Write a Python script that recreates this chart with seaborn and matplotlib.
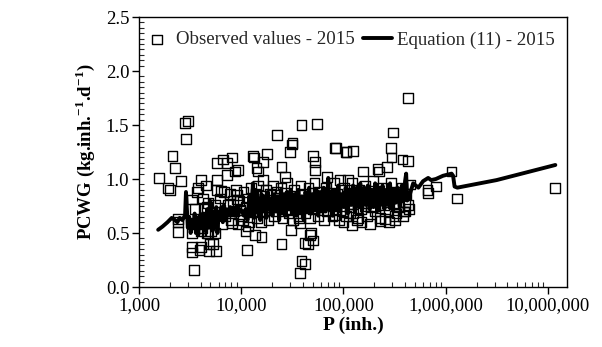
import numpy as np
import pandas as pd
from matplotlib import pyplot as plt
from matplotlib import ticker
import seaborn as sns

# Observed values - 2015 (population, PCWG)
obs_p = [1580, 1935, 2010, 2130, 2230, 2560, 2820, 3030, 2880, 2400, 2400, 3300, 3300, 3470,
         3660, 3800, 4040, 4040, 4520, 4650, 4830, 5320, 5620, 5830, 5780, 5830, 6300, 6670,
         7200, 8060, 7300, 8700, 9340, 8060, 9020, 9020, 9710, 11300, 10470, 11700, 13100,
         13400, 14100, 14700, 17700, 16400, 13600, 15800, 16400, 22200, 24800, 24800, 26700,
         29900, 31100, 31700, 30600, 38900, 55300, 37500, 42000, 38900, 47000, 45200, 37500,
         37000, 50600, 52500, 52500, 82400, 105000, 68400, 92300, 111000, 429000, 306000,
         84300, 107000, 123000, 290000, 295000, 378000, 424000, 264000, 215000, 223000,
         156000, 1140000, 800000, 664000, 673000, 1290000, 11700000, 439000, 330000, 254000,
         203000, 139000, 116000, 82400, 343000, 398000, 3300, 3900, 4900, 4600, 5500, 4700,
         2400, 3300, 4100, 5100, 48000, 50000, 42000, 11000,
         4300, 4700, 5000, 5300, 5600, 6000, 6200, 6500, 6800, 7000, 7400, 7700, 8000, 8300,
         8600, 8900, 9300, 9600, 10000, 10500, 11000, 11500, 12000, 12500, 12800, 13300,
         13800, 14200, 14700, 15200, 15700, 16200, 16800, 17300, 17900, 18500, 19000, 19700,
         20300, 21000, 21600, 22300, 23000, 23800, 24500, 25300, 26000, 27000, 28000, 29000,
         30000, 31000, 32000, 33000, 34000, 35500, 36500, 38000, 39500, 41000, 42500, 44000,
         45500, 47000, 48500, 50000, 52000, 54000, 56000, 58000, 60000, 62000, 64500, 67000,
         69500, 72000, 75000, 78000, 81000, 84000, 87000, 90000, 94000, 98000, 102000, 106000,
         110000, 115000, 120000, 125000, 130000, 136000, 142000, 148000, 155000, 162000,
         170000, 178000, 186000, 195000, 205000, 215000, 226000, 237000, 249000, 262000,
         275000, 290000, 305000, 320000, 336000, 352000, 370000, 390000, 410000, 430000,
         445000, 100000, 120000, 150000, 180000, 230000, 280000, 320000, 400000, 380000,
         3500, 3700, 4000, 4200, 4500]
obs_v = [1.01, 0.92, 0.90, 1.21, 1.10, 0.98, 1.52, 1.54, 1.37, 0.51, 0.63, 0.81, 0.32, 0.16,
         0.88, 0.92, 0.99, 0.37, 0.94, 0.74, 0.33, 0.40, 0.33, 1.15, 0.99, 0.90, 0.89, 1.18,
         1.15, 1.20, 1.04, 1.07, 1.08, 0.59, 0.85, 0.81, 0.71, 0.34, 0.62, 0.56, 1.21,
         1.20, 1.10, 1.07, 1.23, 1.16, 0.48, 0.46, 0.99, 1.41, 0.40, 1.11, 1.02,
         1.25, 1.32, 1.33, 0.53, 1.50, 1.51, 0.13, 0.21, 0.24, 0.48, 0.40, 0.59,
         0.64, 1.21, 1.16, 1.08, 1.29, 1.25, 1.02, 0.99, 0.99, 1.75, 1.43,
         1.29, 1.25, 1.26, 1.29, 1.20, 1.18, 1.17, 1.11, 1.09, 1.07,
         1.07, 1.07, 0.93, 0.90, 0.87, 0.82, 0.92, 0.72, 0.68, 0.63,
         0.75, 0.64, 0.68, 0.67, 0.75, 0.79, 0.37, 0.34, 0.40, 0.50, 0.50, 0.50,
         0.60, 0.50, 0.55, 0.52, 0.50, 0.43, 0.41, 0.52,
         0.72, 0.78, 0.60, 0.66, 0.76, 0.70, 0.82, 0.58, 0.88, 0.66, 0.76, 0.86, 0.62, 0.80,
         0.70, 0.90, 0.58, 0.80, 0.66, 0.88, 0.74, 0.82, 0.60, 0.92, 0.70, 0.78,
         0.86, 0.64, 0.94, 0.74, 0.60, 0.84, 0.70, 0.90, 0.78, 0.62, 0.86, 0.74,
         0.94, 0.66, 0.80, 0.88, 0.70, 0.76, 0.92, 0.64, 0.82, 0.72, 0.96, 0.68,
         0.84, 0.76, 0.62, 0.90, 0.72, 0.80, 0.66, 0.94, 0.74, 0.86, 0.68, 0.78,
         0.92, 0.64, 0.82, 0.72, 0.96, 0.76, 0.66, 0.88, 0.74, 0.82, 0.62, 0.92,
         0.70, 0.84, 0.76, 0.66, 0.96, 0.72, 0.86, 0.62, 0.80, 0.70, 0.92, 0.66,
         0.84, 0.74, 0.96, 0.68, 0.82, 0.62, 0.90, 0.72, 0.78, 0.94,
         0.66, 0.86, 0.74, 0.98, 0.70, 0.84, 0.64, 0.92, 0.76, 0.86,
         0.70, 0.96, 0.78, 0.66, 0.88, 0.74, 0.92, 0.70, 0.86, 0.76,
         0.95, 0.60, 0.57, 0.60, 0.58, 0.61, 0.60, 0.62, 0.70, 0.66,
         0.72, 0.58, 0.52, 0.82, 0.62]

# Equation (11) - 2015
eq_p = [1540, 1700, 1900, 2090, 2250, 2370, 2500, 2650, 2820, 2880, 2950, 3000, 3100, 3200,
        3300, 3400, 3500, 3600, 3700, 3800, 3900, 4050, 4200, 4350, 4500, 4650, 4800, 4950,
        5100, 5250, 5400, 5550, 5700, 5850, 6000, 6200, 6400, 6600, 6800, 7000, 7300, 7500,
        7800, 8100, 8400, 8700, 9000, 9400, 9800, 10200, 10600, 11000, 11500, 12000, 12500,
        13000, 13400, 13800, 14300, 14800, 15300, 15800, 16400, 17000, 17600, 18200, 18800,
        19500, 20200, 21000, 21800, 22600, 23500, 24400, 25300, 26300, 27300, 28400, 29500,
        30700, 32000, 33300, 34700, 36100, 37600, 39200, 40800, 42500, 44300, 46200, 48100,
        50100, 52200, 54400, 56700, 59000, 61500, 64100, 66800, 69600, 70900, 72500, 75600,
        78800, 82100, 85500, 89100, 92900, 96800, 101000, 105000, 110000, 114000, 119000,
        124000, 129000, 135000, 140000, 146000, 152000, 159000, 166000, 173000, 180000,
        188000, 196000, 204000, 213000, 222000, 231000, 241000, 251000, 262000, 273000,
        285000, 297000, 310000, 323000, 336000, 343000, 356000, 372000, 390000, 400000,
        410000, 420000, 440000, 480000, 540000, 600000, 673000, 720000, 800000, 940000,
        1140000, 1180000, 1220000, 1300000, 1470000, 3140000, 11800000]
eq_v = [0.53, 0.56, 0.60, 0.64, 0.62, 0.60, 0.64, 0.62, 0.66, 0.88, 0.70, 0.55, 0.65, 0.50,
        0.62, 0.55, 0.68, 0.50, 0.64, 0.48, 0.66, 0.55, 0.68, 0.52, 0.60, 0.72, 0.55, 0.80,
        0.60, 0.52, 0.70, 0.56, 0.74, 0.50, 0.66, 0.62, 0.74, 0.60, 0.76, 0.62, 0.72, 0.66,
        0.74, 0.68, 0.72, 0.66, 0.74, 0.68, 0.72, 0.70, 0.66, 0.72, 0.62, 0.84, 0.66,
        0.96, 0.64, 0.90, 0.70, 0.82, 0.62, 0.86, 0.70, 0.84, 0.64, 0.88, 0.72,
        0.82, 0.66, 0.86, 0.70, 0.84, 0.62, 0.90, 0.70, 0.86, 0.66, 0.88, 0.72,
        0.90, 0.68, 0.86, 0.66, 0.90, 0.70, 0.84, 0.62, 0.88, 0.70, 0.92, 0.68,
        0.86, 0.72, 0.90, 0.66, 0.88, 0.72, 0.92, 0.70, 0.86, 1.01, 0.72, 0.88,
        0.66, 0.90, 0.72, 0.94, 0.70, 0.86, 0.74, 0.92, 0.68, 0.90, 0.76,
        0.94, 0.70, 0.92, 0.74, 0.96, 0.70, 0.92, 0.76, 0.94, 0.72,
        0.90, 0.74, 0.96, 0.70, 0.92, 0.76, 0.94, 0.72, 0.90, 0.76,
        0.96, 0.72, 0.90, 0.78, 0.92, 0.84, 0.74, 0.94, 0.80, 0.98,
        1.05, 0.80, 0.84, 0.96, 0.92, 0.98, 1.01, 0.99, 1.00, 1.03,
        1.05, 1.03, 0.93, 0.92, 0.93, 0.99, 1.13]

obs = pd.DataFrame({'P': obs_p, 'PCWG': obs_v})
eq = pd.DataFrame({'P': eq_p, 'PCWG': eq_v})

sns.set_theme(style='white')
plt.rcParams['font.family'] = ['Liberation Serif', 'DejaVu Serif']
plt.rcParams['mathtext.fontset'] = 'custom'
plt.rcParams['mathtext.rm'] = 'Liberation Serif'
plt.rcParams['mathtext.bf'] = 'Liberation Serif:bold'

fig = plt.figure(figsize=(6.02, 3.47), dpi=100)
ax = fig.add_axes([0.2309, 0.1729, 0.711, 0.778])

sns.scatterplot(data=obs, x='P', y='PCWG', marker='s', s=50, facecolor='none',
                edgecolor='black', linewidth=1.0, ax=ax, label='Observed values - 2015',
                zorder=2)
sns.lineplot(data=eq, x='P', y='PCWG', estimator=None, sort=False, color='black',
             linewidth=2.8, ax=ax, label='Equation (11) - 2015', zorder=3)

ax.set_xscale('log')
ax.set_xlim(1000, 1.535e7)
ax.set_ylim(0, 2.5)
ax.xaxis.set_major_locator(ticker.LogLocator(base=10, numticks=10))
ax.xaxis.set_minor_locator(ticker.LogLocator(base=10, subs=np.arange(2, 10), numticks=20))
ax.xaxis.set_major_formatter(ticker.FuncFormatter(lambda v, p: f'{int(round(v)):,}'))
ax.yaxis.set_major_locator(ticker.MultipleLocator(0.5))
ax.yaxis.set_minor_locator(ticker.MultipleLocator(0.05))
ax.yaxis.set_major_formatter(ticker.FormatStrFormatter('%.1f'))
ax.tick_params(which='major', direction='out', length=5, width=1, labelsize=13.5,
               colors='black', bottom=True, left=True, pad=2)
ax.tick_params(which='minor', direction='in', length=3.5, width=0.8,
               bottom=True, left=True)
for sp in ax.spines.values():
    sp.set_color('black')
    sp.set_linewidth(1.0)

ax.set_xlabel('P (inh.)', fontsize=14, fontweight='bold', color='black', labelpad=2)
ax.set_ylabel(r'PCWG (kg.inh.$^{\mathbf{-1}}$.d$^{\mathbf{-1}}$)', fontsize=13.5,
              fontweight='bold', color='black', labelpad=6)

ax.legend(loc='upper center', ncol=2, frameon=False, fontsize=13.6, handlelength=1.5,
          handletextpad=0.25, columnspacing=0.45, borderaxespad=0.35,
          bbox_to_anchor=(0.49, 1.0))

fig.savefig('out.png', dpi=100)
